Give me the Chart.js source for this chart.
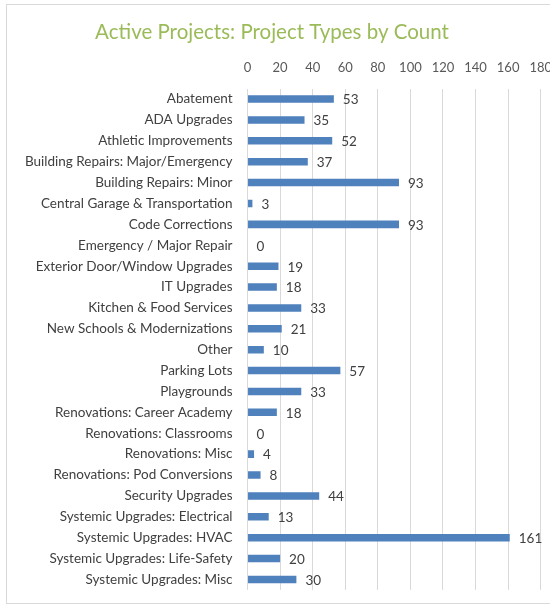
<!DOCTYPE html>
<html>
<head>
<meta charset="utf-8">
<script src="https://cdn.jsdelivr.net/npm/chart.js@4"></script>
<style>
  html, body { margin: 0; padding: 0; background: #fff; overflow: hidden; }
  #marco { position: absolute; left: 6px; top: 4px; width: 560px; height: 598px; border: 1px solid #d9d9d9; }
</style>
</head>
<body>
<div id="marco"></div>
<canvas id="micanvas" width="565" height="605" style="position:absolute;left:0;top:0;width:565px;height:605px"></canvas>
<script>
let titulo = 'Active Projects: Project Types by Count'
let etiquetas = ["Abatement", "ADA Upgrades", "Athletic Improvements", "Building Repairs: Major/Emergency",
  "Building Repairs: Minor", "Central Garage & Transportation", "Code Corrections", "Emergency / Major Repair",
  "Exterior Door/Window Upgrades", "IT Upgrades", "Kitchen & Food Services", "New Schools & Modernizations",
  "Other", "Parking Lots", "Playgrounds", "Renovations: Career Academy", "Renovations: Classrooms",
  "Renovations: Misc", "Renovations: Pod Conversions", "Security Upgrades", "Systemic Upgrades: Electrical",
  "Systemic Upgrades: HVAC", "Systemic Upgrades: Life-Safety", "Systemic Upgrades: Misc"]
let datos = [53, 35, 52, 37, 93, 3, 93, 0, 19, 18, 33, 21, 10, 57, 33, 18, 0, 4, 8, 44, 13, 161, 20, 30]
let marcas = [0, 20, 40, 60, 80, 100, 120, 140, 160, 180]

// escribe el valor a la derecha de cada barra y el titulo arriba
let valoresPlugin = {
  id: 'valores',
  afterDatasetsDraw(chart) {
    let ctx = chart.ctx
    let meta = chart.getDatasetMeta(0)
    ctx.save()
    ctx.font = '13.5px Lato'
    ctx.fillStyle = '#404040'
    ctx.textAlign = 'left'
    ctx.textBaseline = 'middle'
    meta.data.forEach((barra, i) => {
      ctx.fillText(String(datos[i]), barra.x + 9, barra.y + 1)
    })
    // titulo centrado sobre el marco visible
    ctx.font = '20.5px Lato'
    ctx.fillStyle = '#9bbb59'
    ctx.textAlign = 'center'
    ctx.fillText(titulo, 272, 32)
    ctx.restore()
  }
}

let contexto = document.getElementById('micanvas').getContext('2d');
let opciones = {
  type: 'bar',
  data: {
    labels: etiquetas,
    datasets: [{
      label: 'Proyectos',
      backgroundColor: '#4f81bd',
      borderWidth: 0,
      data: datos,
      categoryPercentage: 1,
      barPercentage: 0.36
    }]
  },
  options: {
    indexAxis: 'y',
    responsive: false,
    animation: false,
    layout: { padding: { left: 18, right: 10, top: 47, bottom: 9 } },
    plugins: {
      legend: { display: false },
      tooltip: { enabled: false },
      title: { display: false }
    },
    scales: {
      x: {
        position: 'top',
        min: 0,
        max: 180,
        afterBuildTicks: (eje) => { eje.ticks = marcas.map(v => ({ value: v })) },
        grid: { color: '#d9d9d9', drawTicks: false },
        border: { display: false },
        ticks: { color: '#595959', font: { family: 'Lato', size: 13 }, padding: 13 }
      },
      y: {
        grid: { display: false },
        border: { display: false },
        ticks: { color: '#404040', font: { family: 'Lato', size: 13.5 }, padding: 7, autoSkip: false }
      }
    }
  },
  plugins: [valoresPlugin]
}

let grafica = new Chart(contexto, opciones)
</script>
</body>
</html>
